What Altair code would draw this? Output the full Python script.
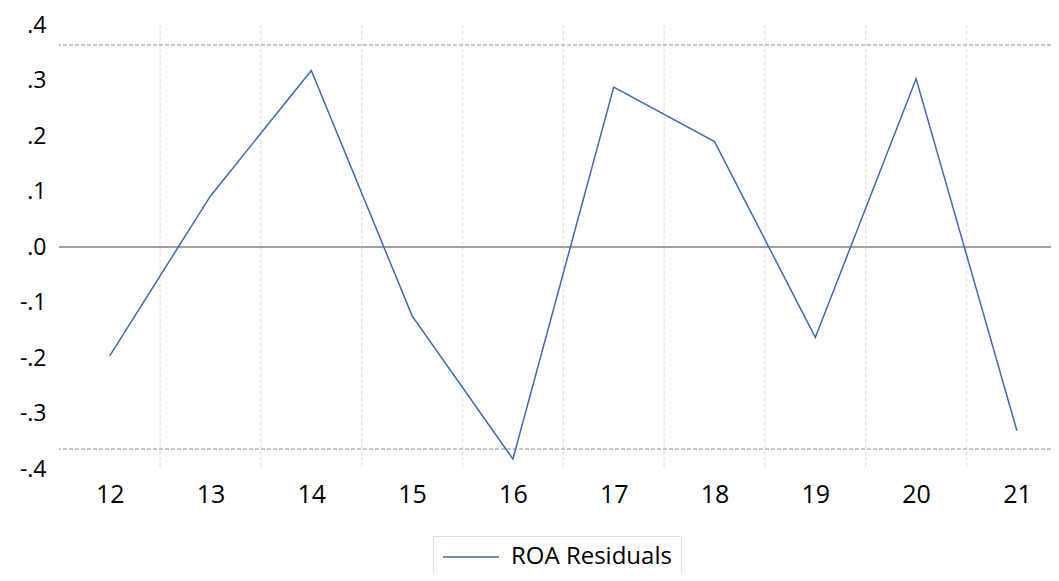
import altair as alt
import pandas as pd

years = [12, 13, 14, 15, 16, 17, 18, 19, 20, 21]
residuals = [-0.196, 0.092, 0.318, -0.124, -0.382, 0.288, 0.190, -0.163, 0.303, -0.331]
series_name = "ROA Residuals"
grid_positions = [12.5, 13.5, 14.5, 15.5, 16.5, 17.5, 18.5, 19.5, 20.5]
band_levels = [0.364, -0.364]
y_ticks = [-0.4, -0.3, -0.2, -0.1, 0.0, 0.1, 0.2, 0.3, 0.4]

FONT = "Open Sans"
BLUE = "#3e6ab5"

df = pd.DataFrame({"year": years, "resid": residuals, "series": [series_name] * len(years)})
grid_df = pd.DataFrame({"g": grid_positions})
band_df = pd.DataFrame({"b": band_levels})
zero_df = pd.DataFrame({"z": [0.0]})

xscale = alt.Scale(domain=[11.497, 21.338], nice=False, zero=False)
yscale = alt.Scale(domain=[-0.4, 0.4], nice=False)

grid = alt.Chart(grid_df).mark_rule(color="#e6e6e6", strokeWidth=1.5, strokeDash=[4, 2]).encode(
    x=alt.X("g:Q", scale=xscale)
)

bands = alt.Chart(band_df).mark_rule(color="#8f8f8f", strokeWidth=1, strokeDash=[4, 2]).encode(
    y=alt.Y("b:Q", scale=yscale)
)

zero = alt.Chart(zero_df).mark_rule(color="#808080", strokeWidth=1.5).encode(
    y=alt.Y("z:Q", scale=yscale)
)

line = alt.Chart(df).mark_line(strokeWidth=1.5).encode(
    x=alt.X(
        "year:Q",
        scale=xscale,
        axis=alt.Axis(
            title=None, values=years, format="d", grid=False, domain=False, ticks=False,
            labelFontSize=25, labelFont=FONT, labelColor="#000000", labelPadding=13,
        ),
    ),
    y=alt.Y(
        "resid:Q",
        scale=yscale,
        axis=alt.Axis(
            title=None, values=y_ticks, grid=False, domain=False, ticks=False,
            labelFontSize=23, labelFont=FONT, labelColor="#000000", labelPadding=13,
            labelExpr="(datum.value < -0.0001 ? '-' : '') + '.' + format(abs(datum.value) * 10, '.0f')",
        ),
    ),
    color=alt.Color(
        "series:N",
        scale=alt.Scale(domain=[series_name], range=[BLUE]),
        legend=alt.Legend(
            title=None, orient="none", legendX=374, legendY=511,
            symbolType="stroke", symbolSize=3136, symbolStrokeWidth=1.5, clipHeight=24,
            labelFontSize=24, labelFont=FONT, labelColor="#000000", labelOffset=11,
            labelLimit=400,
            padding=9, strokeColor="#dddddd", fillColor="#ffffff",
        ),
    ),
)

chart = (
    alt.layer(grid, bands, zero, line)
    .properties(
        width=992,
        height=444,
        background="#ffffff",
        autosize=alt.AutoSizeParams(type="none"),
        padding={"left": 51, "top": 17, "right": 0, "bottom": 104},
    )
    .configure_view(stroke=None)
)

chart.save("out.html", embed_options={"renderer": "svg", "actions": False})
